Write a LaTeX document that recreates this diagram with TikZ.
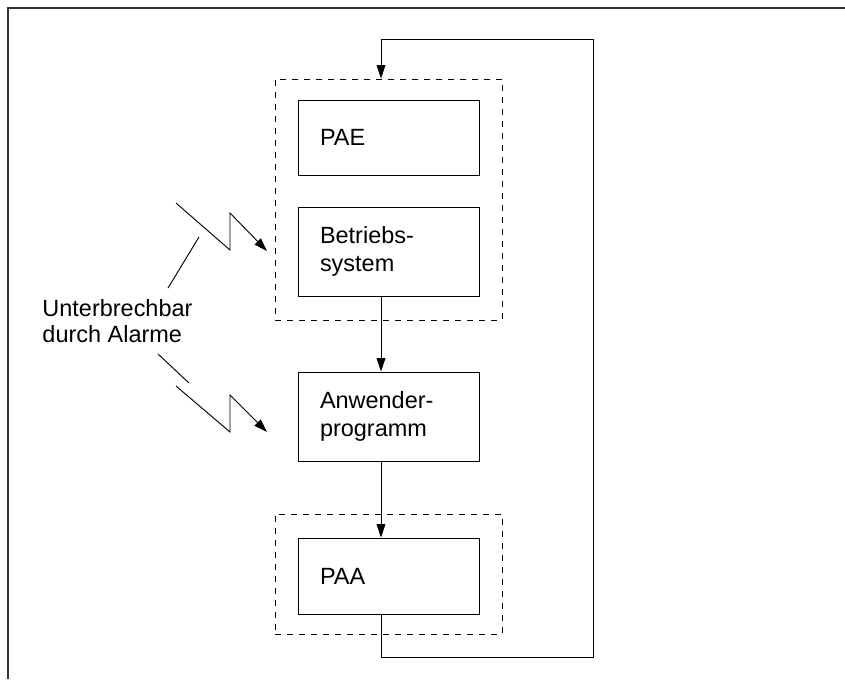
\documentclass[tikz,border=0pt]{standalone}
\usepackage{fontspec}
\setmainfont{Liberation Sans}
\usetikzlibrary{arrows.meta,positioning,calc}

\begin{document}
\begin{tikzpicture}[
  x=0.75pt,y=0.75pt,
  line width=0.7pt,
  box/.style={draw=black, align=left, text width=102.75pt, inner xsep=16.5pt, inner ysep=0pt, minimum height=66.75pt, font=\fontsize{17.6}{21}\selectfont},
  group/.style={draw=black, dash pattern=on 4.5pt off 4.5pt, minimum width=170.25pt, inner sep=0pt},
  label/.style={align=left, inner sep=0pt, font=\fontsize{17.6}{19.5}\selectfont},
  arrow/.style={-{Triangle[length=10pt,width=6.5pt]}, draw=black}
]
\useasboundingbox (0,0) rectangle (845,-679);
% frame
\draw[black!80, line width=0.9pt] (8,-679) -- (8,-8) -- (845,-8);

% dashed groups
\node[group, minimum height=180.75pt] (sys) at (388.5,-199.5) {};
\node[group, minimum height=90pt] (out) at (388.5,-574) {};

% blocks
\node[box, minimum height=56.25pt] (pae) at (388.5,-137.5) {PAE};
\node[box] (bs) at (388.5,-251.5) {Betriebs-\\system};
\node[box] (anw) at (388.5,-416.5) {Anwender-\\programm};
\node[box, minimum height=57pt] (paa) at (388.5,-576) {PAA};

\coordinate (spine) at (381,0);
\coordinate (loopB) at (593,-657);
\coordinate (loopT) at (593,-39);

\draw[arrow] (bs.south -| spine) -- (anw.north -| spine);
\draw[arrow] (anw.south -| spine) -- (paa.north -| spine);
\draw[arrow] (paa.south -| spine) |- (loopB) -- (loopT) -| (sys.north -| spine);

% alarms
\node[label, anchor=north west] (alarm) at (42,-299) {Unterbrechbar\\durch Alarme};
\coordinate (zapA) at (176,-203);
\coordinate (zapB) at (176,-386);
\draw[arrow] (zapA) -- ++(54,-47) -- ++(0,37) -- ++(37,-38);
\draw[arrow] (zapB) -- ++(54,-46) -- ++(0,37) -- ++(37,-37);
\coordinate (tagA) at (168,-288);
\coordinate (tagB) at (158,-354);
\draw (tagA) -- ++(31,51);
\draw (tagB) -- ++(31,-29);
\end{tikzpicture}
\end{document}
